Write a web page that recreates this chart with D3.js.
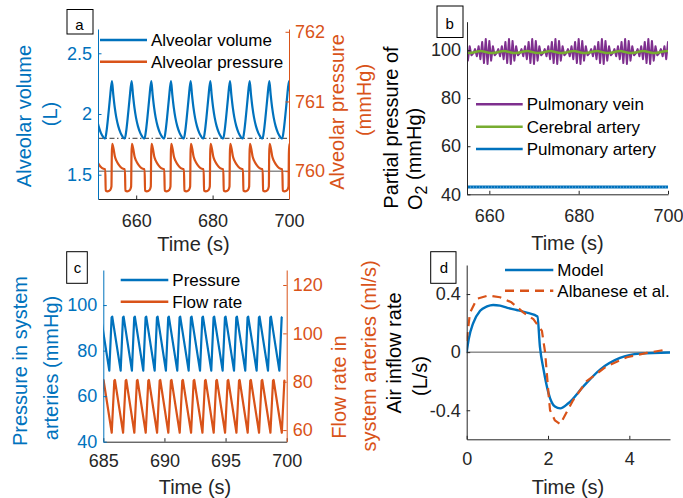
<!DOCTYPE html>
<html>
<head>
<meta charset="utf-8">
<script src="https://cdn.jsdelivr.net/npm/d3@7"></script>
<style>
  body { margin: 0; background: #fff; }
  text { font-family: 'Liberation Sans', Arial, Helvetica, sans-serif; }
</style>
</head>
<body>
<svg id="fig" width="683" height="498"></svg>
<script>
const BLUE = '#0072BD', ORANGE = '#D95319', PURPLE = '#7E2F8E', GREEN = '#77AC30', INK = '#262626';

// panel a - alveolar volume and pressure
const aTimeDomain = [650, 700];
const aTimeTicks = [660, 680, 700];
const aVolDomain = [1.3, 2.7];
const aVolTicks = [1.5, 2, 2.5];
const aPresDomain = [759.6, 762.04];
const aPresTicks = [760, 761, 762];
const breathStarts = [646.75, 651.9, 657.05, 662.2, 667.35, 672.5, 677.65, 682.8, 687.95, 693.1, 698.25];
const volOffsets = [0, 0.3, 0.7, 1.2, 1.75, 2.1, 2.5, 2.9, 3.4, 4.0, 4.5, 4.9];
const volValues = [1.80, 1.85, 1.96, 2.12, 2.27, 2.16, 2.05, 1.97, 1.90, 1.845, 1.815, 1.80];
const presOffsets = [0, 0.12, 0.6, 1.3, 1.62, 1.72, 1.82, 2.17, 2.52, 2.92, 3.42, 4.0, 4.7, 5.1];
const presValues = [760.03, 759.72, 759.71, 759.73, 759.78, 760.25, 760.39, 760.32, 760.21, 760.15, 760.10, 760.06, 760.035, 760.03];
const aVolRef = 1.8, aPresRef = 760;

// panel b - partial pressure of O2
const bTimeDomain = [655, 700];
const bTimeTicks = [660, 680, 700];
const bPo2Domain = [40, 111.8];
const bPo2Ticks = [40, 60, 80, 100];
const respStarts = [651.2, 656.4, 661.6, 666.8, 672.0, 677.2, 682.4, 687.6, 692.8, 698.0];
const veinStep = 0.4;
const veinCycle = [98.6, 100.4, 97.4, 101.6, 96.2, 103.4, 94.6, 104.6, 94.2, 103.8, 95.6, 101.6, 97.8];
const cerebralOffsets = [0, 0.86, 1.72, 2.58, 3.44, 4.3];
const cerebralCycle = [99.0, 99.4, 99.6, 99.3, 98.9, 98.8];
const pulmArtTimes = [655, 670, 685, 700];
const pulmArtValues = [43.0, 43.0, 43.0, 43.0];

// panel c - systemic arteries
const cTimeDomain = [685, 700];
const cTimeTicks = [685, 690, 695, 700];
const cPresDomain = [40, 115.4];
const cPresTicks = [40, 60, 80, 100];
const cFlowDomain = [55.2, 126.2];
const cFlowTicks = [60, 80, 100, 120];
const beatStarts = [684.56, 685.49, 686.42, 687.34, 688.27, 689.2, 690.12, 691.05, 691.98, 692.91, 693.83, 694.76, 695.69, 696.61, 697.54, 698.47, 699.4];
const pulsePresOffsets = [0, 0.19, 0.24];
const pulsePresValues = [71.2, 94.6, 94.9];
const pulseFlowOffsets = [0.2, 0.41, 0.46];
const pulseFlowValues = [58.9, 80.4, 80.7];

// panel d - air inflow over one breath
const dTimeDomain = [0, 5];
const dTimeTicks = [0, 2, 4];
const dFlowDomain = [-0.6, 0.6];
const dFlowTicks = [-0.4, 0, 0.4];
const modelTime = [0, 0.05, 0.16, 0.33, 0.5, 0.65, 0.82, 1.0, 1.23, 1.5, 1.74, 1.8, 1.89, 2.01, 2.17, 2.3, 2.5, 2.87, 3.28, 3.77, 4.26, 5.0];
const modelFlow = [0, 0.09, 0.2, 0.285, 0.315, 0.325, 0.32, 0.305, 0.29, 0.27, 0.246, 0.04, -0.12, -0.28, -0.375, -0.387, -0.352, -0.236, -0.12, -0.04, -0.01, -0.002];
const albTime = [0, 0.08, 0.25, 0.53, 0.82, 1.1, 1.39, 1.64, 1.85, 1.93, 2.01, 2.05, 2.17, 2.3, 2.62, 2.95, 3.44, 3.94, 4.43, 4.84];
const albFlow = [0.077, 0.27, 0.367, 0.39, 0.378, 0.343, 0.274, 0.227, 0.146, -0.005, -0.28, -0.4, -0.47, -0.496, -0.33, -0.2, -0.097, -0.035, -0.005, 0.014];

const svg = d3.select('#fig');
svg.append('rect').attr('width', 683).attr('height', 498).attr('fill', '#fff');

const plain = d => String(d);

// repeat one read cycle at each start time
function tile(starts, offsets, values) {
  const pts = [];
  starts.forEach(s => offsets.forEach((o, i) => pts.push([s + o, values[i]])));
  return pts;
}

let clipId = 0;
function clip(x0, x1, y0, y1) {
  const id = 'clip' + (clipId++);
  svg.append('clipPath').attr('id', id).append('rect')
    .attr('x', x0).attr('y', y0).attr('width', x1 - x0).attr('height', y1 - y0);
  return 'url(#' + id + ')';
}

function drawLine(pts, x, y, color, width, cp, curve, dash) {
  const p = svg.append('path')
    .datum(pts)
    .attr('clip-path', cp)
    .attr('fill', 'none')
    .attr('stroke', color)
    .attr('stroke-width', width)
    .attr('stroke-linejoin', 'round')
    .attr('d', d3.line().x(d => x(d[0])).y(d => y(d[1])).curve(curve || d3.curveLinear));
  if (dash) p.attr('stroke-dasharray', dash);
  return p;
}

function styleAxis(g, color, size) {
  g.select('.domain').attr('stroke', color).attr('stroke-width', 1);
  g.selectAll('.tick line').attr('stroke', color);
  g.selectAll('.tick text').attr('fill', color).style('font-size', size + 'px')
    .style('font-family', "'Liberation Sans', Arial, sans-serif");
}

function xAxis(x, yPos, ticks, pad) {
  const g = svg.append('g').attr('transform', `translate(0,${yPos})`)
    .call(d3.axisBottom(x).tickValues(ticks).tickFormat(plain)
      .tickSizeInner(-3.5).tickSizeOuter(0).tickPadding(pad));
  styleAxis(g, INK, 18);
}

function yAxis(y, xPos, ticks, color, right) {
  const ax = right ? d3.axisRight(y) : d3.axisLeft(y);
  ax.tickValues(ticks).tickFormat(plain).tickSizeInner(-3.5).tickSizeOuter(0).tickPadding(6);
  const g = svg.append('g').attr('transform', `translate(${xPos},0)`).call(ax);
  styleAxis(g, color, 18);
}

function vLabel(x, y, txt, color, anchor) {
  return svg.append('text')
    .attr('transform', `translate(${x},${y}) rotate(-90)`)
    .attr('text-anchor', anchor || 'middle')
    .attr('dy', '0.35em')
    .style('font-size', '20px')
    .attr('fill', color)
    .text(txt);
}

function hLabel(x, y, txt) {
  svg.append('text').attr('x', x).attr('y', y).attr('text-anchor', 'middle')
    .style('font-size', '20px').attr('fill', INK).text(txt);
}

function legend(x0, x1, items) {
  items.forEach(it => {
    const l = svg.append('line').attr('x1', x0).attr('x2', x1).attr('y1', it.y).attr('y2', it.y)
      .attr('stroke', it.color).attr('stroke-width', 2.4);
    if (it.dash) l.attr('stroke-dasharray', it.dash);
    svg.append('text').attr('x', x1 + 4).attr('y', it.y + 6)
      .style('font-size', '17px').attr('fill', '#000').text(it.label);
  });
}

function tag(x, y, w, h, letter, tx, ty) {
  svg.append('rect').attr('x', x).attr('y', y).attr('width', w).attr('height', h)
    .attr('fill', '#fff').attr('stroke', '#000').attr('stroke-width', 1);
  svg.append('text').attr('x', tx).attr('y', ty).attr('text-anchor', 'middle')
    .style('font-size', '15px').attr('fill', '#000').text(letter);
}

// ---------- panel a ----------
{
  const x = d3.scaleLinear().domain(aTimeDomain).range([98, 289]);
  const yL = d3.scaleLinear().domain(aVolDomain).range([199, 29]);
  const yR = d3.scaleLinear().domain(aPresDomain).range([199, 29]);
  const cp = clip(98, 289, 29, 199);

  svg.append('line').attr('x1', x(aTimeDomain[0])).attr('x2', x(aTimeDomain[1]))
    .attr('y1', yR(aPresRef)).attr('y2', yR(aPresRef))
    .attr('stroke', '#8c8c8c').attr('stroke-width', 1.5);
  svg.append('line').attr('x1', x(aTimeDomain[0])).attr('x2', x(aTimeDomain[1]))
    .attr('y1', yL(aVolRef)).attr('y2', yL(aVolRef))
    .attr('stroke', '#333').attr('stroke-width', 1).attr('stroke-dasharray', '5,2.5,1.5,2.5');

  drawLine(tile(breathStarts, volOffsets, volValues), x, yL, BLUE, 2.2, cp, d3.curveMonotoneX);
  drawLine(tile(breathStarts, presOffsets, presValues), x, yR, ORANGE, 2.2, cp, d3.curveMonotoneX);

  xAxis(x, 199, aTimeTicks, 15);
  yAxis(yL, 98, aVolTicks, BLUE, false);
  yAxis(yR, 289, aPresTicks, ORANGE, true);

  vLabel(24, 116, 'Alveolar volume', BLUE);
  vLabel(50, 114, '(L)', BLUE);
  vLabel(337, 112, 'Alveolar pressure', ORANGE);
  vLabel(364, 100, '(mmHg)', ORANGE);
  hLabel(193.5, 251, 'Time (s)');

  legend(100, 147, [
    { y: 40, color: BLUE, label: 'Alveolar volume' },
    { y: 61.7, color: ORANGE, label: 'Alveolar pressure' }
  ]);
  tag(67, 9.5, 26, 24.5, 'a', 79.5, 29.5);
}

// ---------- panel b ----------
{
  const x = d3.scaleLinear().domain(bTimeDomain).range([467, 668]);
  const y = d3.scaleLinear().domain(bPo2Domain).range([194.3, 21.7]);
  const cp = clip(467, 668, 21.7, 194.3);
  const veinOffsets = veinCycle.map((v, i) => i * veinStep);

  drawLine(tile(respStarts, veinOffsets, veinCycle), x, y, PURPLE, 2, cp);
  drawLine(tile(respStarts, cerebralOffsets, cerebralCycle), x, y, GREEN, 2.4, cp, d3.curveMonotoneX);
  const pa = pulmArtTimes.map((t, i) => [t, pulmArtValues[i]]);
  drawLine(pa, x, y, BLUE, 3, cp);
  drawLine(pa, x, y, '#9cc8ea', 0.8, cp, null, '1,2');

  xAxis(x, 194.3, bTimeTicks, 15);
  yAxis(y, 467, bPo2Ticks, INK, false);

  vLabel(391, 127.5, 'Partial pressure of', '#000');
  const l2 = vLabel(415, 210, 'O', '#000', 'start');
  l2.append('tspan').attr('dy', '0.3em').style('font-size', '16px').text('2');
  l2.append('tspan').attr('dy', '-0.3em').text(' (mmHg)');
  hLabel(567.5, 250, 'Time (s)');

  legend(476, 522.7, [
    { y: 104.3, color: PURPLE, label: 'Pulmonary vein' },
    { y: 126.7, color: GREEN, label: 'Cerebral artery' },
    { y: 149, color: BLUE, label: 'Pulmonary artery' }
  ]);
  tag(437, 6, 26, 31.5, 'b', 449.7, 28.5);
}

// ---------- panel c ----------
{
  const x = d3.scaleLinear().domain(cTimeDomain).range([103.3, 286.7]);
  const yL = d3.scaleLinear().domain(cPresDomain).range([441.7, 270]);
  const yR = d3.scaleLinear().domain(cFlowDomain).range([441.7, 270]);
  const cp = clip(103.3, 286.7, 270, 441.7);

  drawLine(tile(beatStarts, pulsePresOffsets, pulsePresValues), x, yL, BLUE, 2.2, cp);
  drawLine(tile(beatStarts, pulseFlowOffsets, pulseFlowValues), x, yR, ORANGE, 2.2, cp);

  xAxis(x, 441.7, cTimeTicks, 13);
  yAxis(yL, 103.3, cPresTicks, BLUE, false);
  yAxis(yR, 286.7, cFlowTicks, ORANGE, true);

  vLabel(20, 361, 'Pressure in system', BLUE);
  vLabel(51, 368, 'arteries (mmHg)', BLUE);
  vLabel(339, 387, 'Flow rate in', ORANGE);
  vLabel(369, 356, 'system arteries (ml/s)', ORANGE);
  hLabel(195, 494, 'Time (s)');

  legend(120.7, 168.3, [
    { y: 280, color: BLUE, label: 'Pressure' },
    { y: 301.7, color: ORANGE, label: 'Flow rate' }
  ]);
  tag(66.7, 251.7, 20.6, 31.6, 'c', 77.5, 273.3);
}

// ---------- panel d ----------
{
  const x = d3.scaleLinear().domain(dTimeDomain).range([466.7, 670]);
  const y = d3.scaleLinear().domain(dFlowDomain).range([439.3, 265]);
  const cp = clip(466.7, 672, 262, 441);

  svg.append('line').attr('x1', x(dTimeDomain[0])).attr('x2', x(dTimeDomain[1]))
    .attr('y1', y(0)).attr('y2', y(0)).attr('stroke', '#555').attr('stroke-width', 1);

  drawLine(modelTime.map((t, i) => [t, modelFlow[i]]), x, y, BLUE, 2.4, cp, d3.curveMonotoneX);
  drawLine(albTime.map((t, i) => [t, albFlow[i]]), x, y, ORANGE, 2.2, cp, null, '9,6');

  xAxis(x, 439.3, dTimeTicks, 13);
  yAxis(y, 466.7, dFlowTicks, INK, false);

  vLabel(394, 353, 'Air inflow rate', '#000');
  vLabel(420, 376, '(L/s)', '#000');
  hLabel(568, 494, 'Time (s)');

  legend(505, 553.3, [
    { y: 270, color: BLUE, label: 'Model' },
    { y: 290.7, color: ORANGE, label: 'Albanese et al.', dash: '9,6' }
  ]);
  tag(430.7, 251.7, 25.3, 31.6, 'd', 444, 273.3);
}
</script>
</body>
</html>
